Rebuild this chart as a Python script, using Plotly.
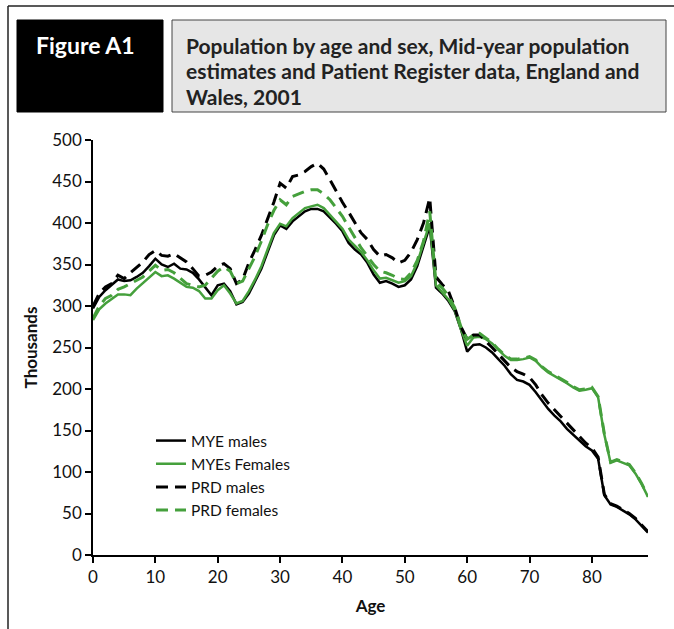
import plotly.graph_objects as go

ages = list(range(0, 90))

mye_males = [297, 311, 319, 325, 332, 330, 331, 335, 340, 348,
             357, 350, 347, 351, 345, 344, 340, 332, 322, 313,
             325, 327, 318, 302, 305, 315, 330, 345, 365, 385,
             397, 393, 402, 408, 414, 417, 417, 414, 407, 399,
             390, 376, 368, 362, 352, 338, 328, 330, 327, 323,
             325, 332, 348, 372, 396, 322, 315, 306, 294, 272,
             245, 253, 254, 250, 244, 236, 228, 218, 211, 209,
             205, 196, 186, 176, 168, 161, 152, 145, 137, 131,
             126, 116, 72, 61, 58, 54, 49, 43, 35, 27]

mye_females = [283, 296, 303, 309, 314, 314, 313, 321, 328, 335,
               341, 336, 337, 333, 328, 323, 322, 318, 309, 309,
               319, 325, 315, 303, 306, 318, 332, 348, 368, 388,
               399, 396, 406, 412, 418, 420, 422, 418, 410, 402,
               393, 380, 372, 365, 355, 343, 333, 334, 331, 328,
               330, 336, 352, 375, 400, 325, 317, 308, 295, 272,
               252, 262, 263, 260, 255, 247, 240, 235, 235, 236,
               238, 234, 226, 220, 216, 212, 207, 202, 198, 199,
               201, 190, 145, 111, 114, 111, 108, 98, 85, 70]

prd_males = [300, 315, 323, 327, 337, 333, 340, 347, 353, 362,
             367, 361, 360, 363, 358, 353, 345, 336, 337, 341,
             348, 351, 345, 327, 332, 352, 368, 385, 405, 425,
             448, 442, 456, 458, 462, 468, 472, 465, 452, 438,
             425, 413, 400, 388, 380, 368, 360, 362, 358, 352,
             355, 365, 380, 400, 430, 335, 326, 318, 298, 275,
             260, 265, 265, 258, 250, 242, 234, 226, 221, 218,
             214, 205, 193, 183, 175, 167, 158, 150, 142, 135,
             129, 118, 73, 62, 59, 55, 50, 44, 36, 28]

prd_females = [285, 300, 309, 313, 320, 323, 327, 331, 335, 342,
               349, 343, 344, 340, 334, 327, 325, 323, 325, 333,
               342, 347, 342, 327, 330, 345, 360, 378, 398, 415,
               428, 422, 432, 435, 438, 440, 440, 435, 428, 418,
               408, 395, 382, 370, 360, 350, 342, 340, 337, 333,
               332, 340, 355, 378, 414, 328, 322, 312, 298, 275,
               260, 265, 267, 262, 256, 248, 241, 236, 236, 237,
               239, 235, 227, 221, 217, 213, 208, 203, 199, 200,
               202, 191, 146, 112, 115, 112, 109, 99, 86, 71]

series_names = ["MYE males", "MYEs Females", "PRD males", "PRD females"]
x_ticks = [0, 10, 20, 30, 40, 50, 60, 70, 80]
y_ticks = [0, 50, 100, 150, 200, 250, 300, 350, 400, 450, 500]

title_lines = ["Population by age and sex, Mid-year population",
               "estimates and Patient Register data, England and",
               "Wales, 2001"]
figure_label = "Figure A1"

BLACK = "#000000"
GREEN = "#45a03c"
FONT = "Lato"

fig = go.Figure()
fig.add_trace(go.Scatter(x=ages, y=mye_males, name=series_names[0], mode="lines",
                         line=dict(color=BLACK, width=2.5)))
fig.add_trace(go.Scatter(x=ages, y=mye_females, name=series_names[1], mode="lines",
                         line=dict(color=GREEN, width=2.5)))
fig.add_trace(go.Scatter(x=ages, y=prd_males, name=series_names[2], mode="lines",
                         line=dict(color=BLACK, width=3, dash="12px,7px")))
fig.add_trace(go.Scatter(x=ages, y=prd_females, name=series_names[3], mode="lines",
                         line=dict(color=GREEN, width=3, dash="12px,7px")))

L, R, T, B = 93, 26, 140, 74
W, H = 674, 629
pw, ph = W - L - R, H - T - B

def px(xp):
    return (xp - L) / pw

def py(yp):
    return (H - B - yp) / ph

shapes = [
    dict(type="line", xref="paper", yref="paper", x0=px(8), x1=px(674), y0=py(6), y1=py(6),
         line=dict(color="#222222", width=1.5)),
    dict(type="line", xref="paper", yref="paper", x0=px(8), x1=px(8), y0=py(6), y1=py(629),
         line=dict(color="#222222", width=1.5)),
    dict(type="rect", xref="paper", yref="paper", x0=px(17), x1=px(163), y0=py(112), y1=py(20),
         fillcolor="#000000", line=dict(color="#000000", width=1)),
    dict(type="rect", xref="paper", yref="paper", x0=px(172), x1=px(666), y0=py(112), y1=py(20),
         fillcolor="#e6e6e6", line=dict(color="#444444", width=1)),
]

annotations = [
    dict(text="<b>%s</b>" % figure_label, xref="paper", yref="paper", x=px(34), y=py(45),
         xanchor="left", yanchor="middle", showarrow=False,
         font=dict(family=FONT, size=23, color="#ffffff")),
]
for i, line in enumerate(title_lines):
    annotations.append(dict(text="<b>%s</b>" % line, xref="paper", yref="paper",
                            x=px(184), y=py(45 + 25.5 * i), xanchor="left", yanchor="middle",
                            showarrow=False, font=dict(family=FONT, size=21, color="#222222")))

fig.update_layout(
    width=W, height=H,
    margin=dict(l=L, r=R, t=T, b=B),
    paper_bgcolor="white", plot_bgcolor="white",
    font=dict(family=FONT, size=16, color="#111111"),
    showlegend=True,
    legend=dict(x=px(151), y=py(424), xanchor="left", yanchor="top",
                bgcolor="rgba(0,0,0,0)", font=dict(family=FONT, size=15.5),
                tracegroupgap=0, itemwidth=30),
    shapes=shapes,
    annotations=annotations,
    xaxis=dict(range=[0, 89], tickvals=x_ticks, ticks="outside", ticklen=6, tickwidth=1.5,
               tickcolor="#000", showline=True, linecolor="#000", linewidth=1.5,
               showgrid=False, zeroline=False,
               title=dict(text="<b>Age</b>", font=dict(family=FONT, size=17), standoff=14),
               tickfont=dict(family=FONT, size=17)),
    yaxis=dict(range=[0, 500], tickvals=y_ticks, ticks="outside", ticklen=6, tickwidth=1.5,
               tickcolor="#000", showline=True, linecolor="#000", linewidth=1.5,
               showgrid=False, zeroline=False,
               title=dict(text="<b>Thousands</b>", font=dict(family=FONT, size=17), standoff=10),
               tickfont=dict(family=FONT, size=17)),
)

fig.write_html("out.html")
